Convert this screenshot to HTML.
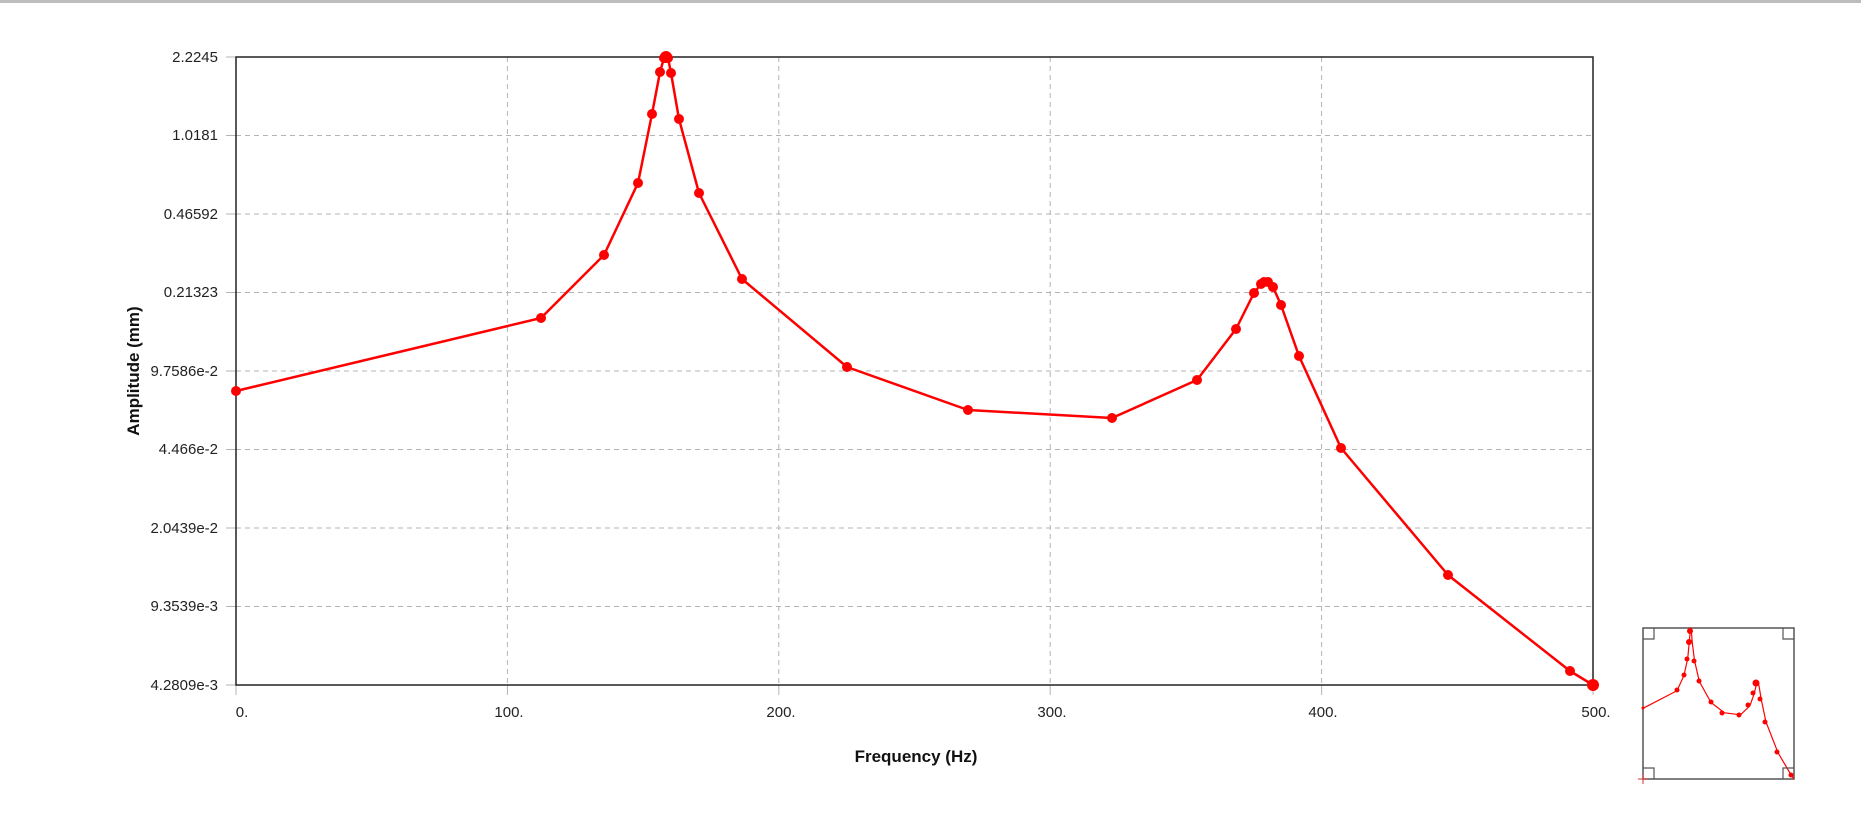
<!DOCTYPE html>
<html><head><meta charset="utf-8"><style>
body{margin:0;background:#fff;width:1861px;height:819px;overflow:hidden}
text{font-family:"Liberation Sans",sans-serif}
</style></head><body>
<svg width="1861" height="819" xmlns="http://www.w3.org/2000/svg">
<rect x="0" y="0" width="1861" height="3" fill="#bdbdbd"/>
<g stroke="#b4b4b4" stroke-width="1" stroke-dasharray="5,4">
<line x1="236" y1="135.5" x2="1593" y2="135.5"/><line x1="236" y1="214" x2="1593" y2="214"/><line x1="236" y1="292.5" x2="1593" y2="292.5"/><line x1="236" y1="371" x2="1593" y2="371"/><line x1="236" y1="449.5" x2="1593" y2="449.5"/><line x1="236" y1="528" x2="1593" y2="528"/><line x1="236" y1="606.5" x2="1593" y2="606.5"/>
<line x1="507.4" y1="57" x2="507.4" y2="685"/><line x1="778.8" y1="57" x2="778.8" y2="685"/><line x1="1050.2" y1="57" x2="1050.2" y2="685"/><line x1="1321.6" y1="57" x2="1321.6" y2="685"/>
</g>
<g stroke="#b4b4b4" stroke-width="1">
<line x1="226" y1="57" x2="236" y2="57"/><line x1="226" y1="135.5" x2="236" y2="135.5"/><line x1="226" y1="214" x2="236" y2="214"/><line x1="226" y1="292.5" x2="236" y2="292.5"/><line x1="226" y1="371" x2="236" y2="371"/><line x1="226" y1="449.5" x2="236" y2="449.5"/><line x1="226" y1="528" x2="236" y2="528"/><line x1="226" y1="606.5" x2="236" y2="606.5"/><line x1="226" y1="685" x2="236" y2="685"/>
<line x1="236" y1="685" x2="236" y2="695"/><line x1="507.4" y1="685" x2="507.4" y2="695"/><line x1="778.8" y1="685" x2="778.8" y2="695"/><line x1="1050.2" y1="685" x2="1050.2" y2="695"/><line x1="1321.6" y1="685" x2="1321.6" y2="695"/><line x1="1593" y1="685" x2="1593" y2="695"/>
</g>
<rect x="236" y="57" width="1357" height="628" fill="none" stroke="#222" stroke-width="1.5"/>
<g font-size="15" fill="#222" text-anchor="end">
<text x="218" y="62">2.2245</text><text x="218" y="140">1.0181</text><text x="218" y="219">0.46592</text><text x="218" y="297">0.21323</text><text x="218" y="376">9.7586e-2</text><text x="218" y="454">4.466e-2</text><text x="218" y="533">2.0439e-2</text><text x="218" y="611">9.3539e-3</text><text x="218" y="690">4.2809e-3</text>
</g>
<g font-size="15" fill="#222" text-anchor="middle">
<text x="242" y="717">0.</text><text x="509" y="717">100.</text><text x="781" y="717">200.</text><text x="1052" y="717">300.</text><text x="1323" y="717">400.</text><text x="1596" y="717">500.</text>
</g>
<text x="916" y="762" font-size="17" font-weight="bold" text-anchor="middle" fill="#111">Frequency (Hz)</text>
<text transform="translate(139,371) rotate(-90)" font-size="17" font-weight="bold" text-anchor="middle" fill="#111">Amplitude (mm)</text>
<g id="series">
<polyline fill="none" stroke="#f00" stroke-width="2.5" stroke-linejoin="round" points="236,391 541,318 604,255 638,183 652,114 660,72 664,58 666,57 668,58 671,73 679,119 699,193 742,279 847,367 968,410 1112,418 1197,380 1236,329 1254,293 1261,284 1264,282 1268,282 1273,287 1281,305 1299,356 1341,448 1448,575 1570,671 1593,685"/>
<g fill="#f00">
<circle cx="236" cy="391" r="5"/><circle cx="541" cy="318" r="5"/><circle cx="604" cy="255" r="5"/><circle cx="638" cy="183" r="5"/><circle cx="652" cy="114" r="5"/><circle cx="660" cy="72" r="5"/><circle cx="664" cy="58" r="5"/><circle cx="666" cy="57" r="6"/><circle cx="668" cy="58" r="5"/><circle cx="671" cy="73" r="5"/><circle cx="679" cy="119" r="5"/><circle cx="699" cy="193" r="5"/><circle cx="742" cy="279" r="5"/><circle cx="847" cy="367" r="5"/><circle cx="968" cy="410" r="5"/><circle cx="1112" cy="418" r="5"/><circle cx="1197" cy="380" r="5"/><circle cx="1236" cy="329" r="5"/><circle cx="1254" cy="293" r="5"/><circle cx="1261" cy="284" r="5"/><circle cx="1264" cy="282" r="5"/><circle cx="1268" cy="282" r="5"/><circle cx="1273" cy="287" r="5"/><circle cx="1281" cy="305" r="5"/><circle cx="1299" cy="356" r="5"/><circle cx="1341" cy="448" r="5"/><circle cx="1448" cy="575" r="5"/><circle cx="1570" cy="671" r="5"/><circle cx="1593" cy="685" r="6"/>
</g>
</g>
<rect x="1643" y="628" width="151" height="151" fill="#fff" stroke="#555" stroke-width="1.5"/>
<g transform="translate(1643,628) scale(0.1113,0.2404) translate(-236,-57)">
<polyline fill="none" stroke="#f00" stroke-width="1.2" vector-effect="non-scaling-stroke" points="236,391 541,318 604,255 638,183 652,114 660,72 664,58 666,57 668,58 671,73 679,119 699,193 742,279 847,367 968,410 1112,418 1197,380 1236,329 1254,293 1261,284 1264,282 1268,282 1273,287 1281,305 1299,356 1341,448 1448,575 1570,671 1593,685"/>
</g>
<g fill="#f00">
<circle cx="1643" cy="708" r="1.5"/><circle cx="1677" cy="690" r="2.5"/><circle cx="1684" cy="675" r="2.5"/><circle cx="1687" cy="659" r="2.5"/><circle cx="1689" cy="642" r="3"/><circle cx="1690" cy="631" r="3"/><circle cx="1694" cy="661" r="2.5"/><circle cx="1699" cy="681" r="2.5"/><circle cx="1711" cy="702" r="2.5"/><circle cx="1722" cy="713" r="2.5"/><circle cx="1739" cy="715" r="2.5"/><circle cx="1748" cy="705" r="2.5"/><circle cx="1753" cy="693" r="2.5"/><circle cx="1756" cy="683" r="3.5"/><circle cx="1760" cy="699" r="2.5"/><circle cx="1765" cy="722" r="2.5"/><circle cx="1777" cy="752" r="2.5"/><circle cx="1791" cy="775" r="2.5"/>
</g>
<g fill="none" stroke="#555" stroke-width="1.2">
<path d="M1643,639 h11 v-11"/><path d="M1794,639 h-11 v-11"/><path d="M1643,768 h11 v11"/><path d="M1794,768 h-11 v11"/>
</g>
<path d="M1638,779 h10 M1643,774 v10" stroke="#c33" stroke-width="1"/>
</svg>
</body></html>
